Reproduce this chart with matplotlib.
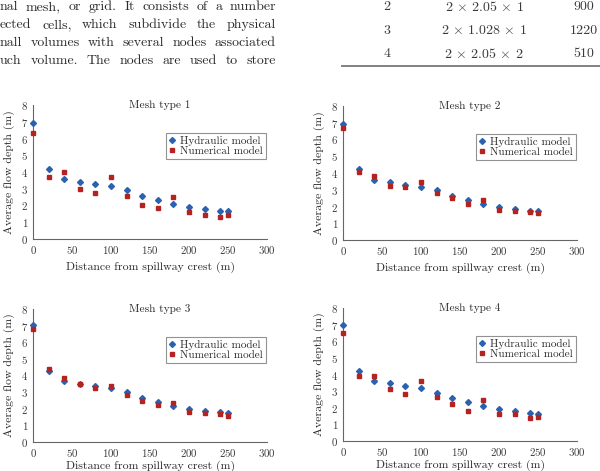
import matplotlib
matplotlib.use("Agg")
import matplotlib.pyplot as plt

plt.rcParams['font.family'] = ['cmr10', 'DejaVu Serif']
plt.rcParams['mathtext.fontset'] = 'cm'
plt.rcParams['axes.formatter.use_mathtext'] = True

# distances from spillway crest (m)
distance = [0, 20, 40, 60, 80, 100, 120, 140, 160, 180, 200, 220, 240, 250]

# average flow depth (m)
hydraulic_1 = [6.9, 4.2, 3.57, 3.43, 3.27, 3.17, 2.9, 2.58, 2.32, 2.1, 1.92, 1.81, 1.69, 1.67]
numerical_1 = [6.3, 3.73, 4.0, 3.0, 2.72, 3.71, 2.54, 2.02, 1.88, 2.5, 1.61, 1.41, 1.33, 1.41]
hydraulic_2 = [6.92, 4.23, 3.61, 3.47, 3.31, 3.19, 2.96, 2.64, 2.36, 2.14, 1.96, 1.85, 1.75, 1.71]
numerical_2 = [6.67, 4.03, 3.81, 3.21, 3.17, 3.45, 2.82, 2.48, 2.16, 2.38, 1.81, 1.75, 1.65, 1.61]
hydraulic_3 = [7.04, 4.28, 3.64, 3.48, 3.34, 3.22, 2.98, 2.66, 2.4, 2.18, 1.98, 1.88, 1.78, 1.72]
numerical_3 = [6.78, 4.38, 3.82, 3.48, 3.22, 3.38, 2.84, 2.48, 2.2, 2.36, 1.78, 1.74, 1.68, 1.58]
hydraulic_4 = [7.0, 4.22, 3.58, 3.46, 3.3, 3.2, 2.91, 2.59, 2.33, 2.09, 1.93, 1.81, 1.69, 1.65]
numerical_4 = [6.51, 3.88, 3.88, 3.12, 2.85, 3.62, 2.63, 2.21, 1.83, 2.47, 1.61, 1.61, 1.41, 1.45]

mesh_titles = ['Mesh type 1', 'Mesh type 2', 'Mesh type 3', 'Mesh type 4']
hydraulic = [hydraulic_1, hydraulic_2, hydraulic_3, hydraulic_4]
numerical = [numerical_1, numerical_2, numerical_3, numerical_4]

# page text around the figure
body_lines = [
    "nal mesh, or grid.  It consists of a number",
    "ected cells, which subdivide the physical",
    "nall volumes with several nodes associated",
    "uch volume.  The nodes are used to store",
]
table_rows = [
    ["2", r"$2\,\times\,2.05\,\times\,1$", "900"],
    ["3", r"$2\,\times\,1.028\,\times\,1$", "1220"],
    ["4", r"$2\,\times\,2.05\,\times\,2$", "510"],
]

W, H = 600, 471
BLUE = '#2a62b0'
RED = '#b52222'
TXT = '#2a2a2a'

fig = plt.figure(figsize=(6, 4.71), dpi=100)
renderer = fig.canvas.get_renderer()


def px(x, y):
    return x / W, 1 - y / H


def justified(words, x0, x1, y, size):
    # spread the words so the line fills x0..x1 like a justified paragraph
    txts = [fig.text(*px(0, y), w, fontsize=size, va='center', ha='left', color=TXT) for w in words]
    widths = [t.get_window_extent(renderer).width for t in txts]
    gap = (x1 - x0 - sum(widths)) / (len(words) - 1)
    x = x0
    for t, w in zip(txts, widths):
        t.set_position(px(x, y))
        x += w + gap


for i, line in enumerate(body_lines):
    justified(line.split(), 0, 276, 7 + 18 * i, 10)

col_x = [387, 484, 584]
for i, row in enumerate(table_rows):
    for cx, cell in zip(col_x, row):
        fig.text(*px(cx, 7 + 23.5 * i), cell, fontsize=10, ha='center', va='center', color='#3a3a3a')
fig.add_artist(plt.Line2D([342 / W, 1.0], [1 - 66 / H, 1 - 66 / H], color='#777777', lw=1.3))

axes_px = [(33, 105, 267, 239), (343, 106, 577, 240), (33, 309, 267, 442), (343, 308, 577, 441)]

for k in range(4):
    l, t, r, b = axes_px[k]
    ax = fig.add_axes([l / W, 1 - b / H, (r - l) / W, (b - t) / H])
    ax.plot(distance, hydraulic[k], linestyle='none', marker='D', ms=3.0, color=BLUE,
            label='Hydraulic model', clip_on=False, zorder=3)
    ax.plot(distance, numerical[k], linestyle='none', marker='s', ms=2.7, color=RED,
            label='Numerical model', clip_on=False, zorder=3)
    ax.set_xlim(0, 300)
    ax.set_ylim(0, 8)
    ax.set_xticks(range(0, 301, 50))
    ax.set_yticks(range(0, 9))
    ax.tick_params(length=0, labelsize=7.8, pad=3.5, colors='#3a3a3a')
    for s in ['top', 'right']:
        ax.spines[s].set_visible(False)
    for s in ['left', 'bottom']:
        ax.spines[s].set_color('#666666')
        ax.spines[s].set_linewidth(0.8)
    ax.text(0.54, 1.0, mesh_titles[k], transform=ax.transAxes, ha='center', va='center',
            fontsize=8.2, color=TXT)
    # bottom row labels sit right at the page edge; keep them just inside it
    ax.set_xlabel('Distance from spillway crest (m)', fontsize=8.5, color=TXT,
                  labelpad=4 if k < 2 else 1.5)
    ax.set_ylabel('Average flow depth (m)', fontsize=8.5, color=TXT, labelpad=4)
    leg = ax.legend(loc='upper right', bbox_to_anchor=(0.995, 0.79), fontsize=8,
                    frameon=True, fancybox=False, borderpad=0.25, handlelength=0.5,
                    handletextpad=0.5, labelspacing=0.05, borderaxespad=0)
    for txt in leg.get_texts():
        txt.set_color(TXT)
    leg.get_frame().set_edgecolor('#777777')
    leg.get_frame().set_linewidth(0.8)

fig.savefig('out.png', dpi=100)
